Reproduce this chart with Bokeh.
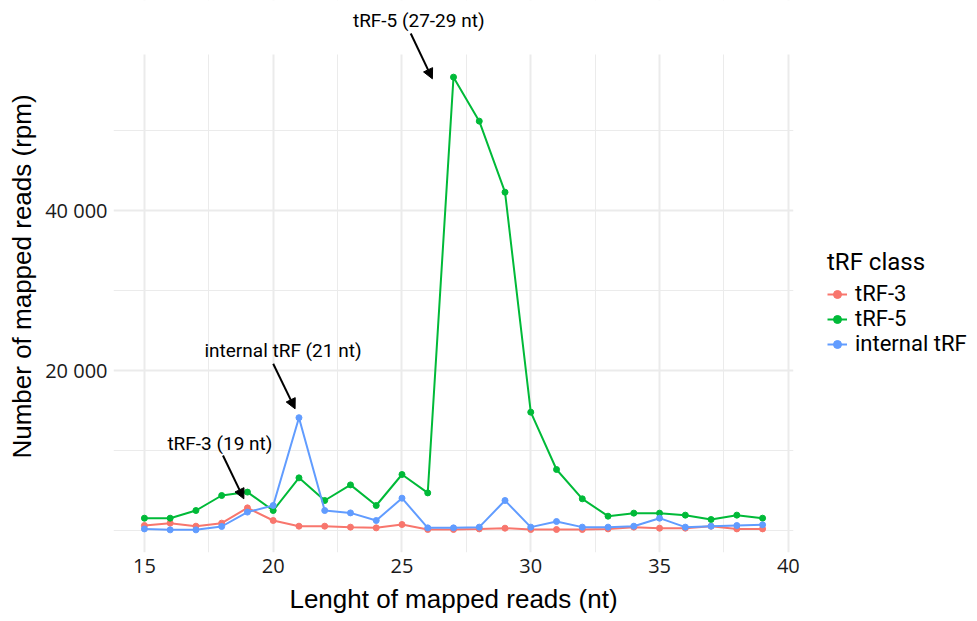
from bokeh.plotting import figure
from bokeh.models import (Range1d, FixedTicker, Legend, LegendItem, Label, Arrow, NormalHead,
                          BoxAnnotation)
from bokeh.embed import file_html
from bokeh.resources import INLINE

# ---- data ----
lengths = list(range(15, 40))
trf3 = [625, 920, 540, 920, 2830, 1250, 540, 540, 420, 330, 750, 125, 125, 200,
        290, 125, 125, 125, 200, 420, 290, 290, 540, 200, 200]
trf5 = [1540, 1540, 2500, 4375, 4800, 2500, 6580, 3750, 5700, 3125, 7000, 4700,
        56670, 51170, 42290, 14790, 7625, 3960, 1790, 2170, 2170, 1920, 1375, 1920, 1540]
internal = [200, 80, 80, 500, 2300, 3125, 14100, 2500, 2200, 1250, 4040, 330, 330,
            420, 3750, 420, 1125, 420, 420, 540, 1540, 420, 540, 625, 710]
series_names = ["tRF-3", "tRF-5", "internal tRF"]
series_values = [trf3, trf5, internal]
colors = ["#F8766D", "#00BA38", "#619CFF"]

x_ticks = [15, 20, 25, 30, 35, 40]
x_minor = [17.5, 22.5, 27.5, 32.5, 37.5]
y_ticks = [20000, 40000]
y_tick_labels = ["20 000", "40 000"]
y_minor = [0, 10000, 30000, 50000]

# annotation texts: (text, text x, text y, arrow start x, start y, end x, end y)
notes = [
    ("tRF-5 (27-29 nt)", 25.65, 63750, 25.34, 62125, 26.18, 56460),
    ("internal tRF (21 nt)", 20.38, 22500, 20.0, 20840, 20.85, 15210),
    ("tRF-3 (19 nt)", 17.93, 10875, 18.05, 9375, 18.86, 3960),
]

# panel limits (ggplot-style expansion) and area above it kept blank for the top note
panel_top = 59500
p = figure(width=977, height=621, frame_width=680, frame_height=552,
           x_range=Range1d(13.8, 40.2), y_range=Range1d(-2750, 66250),
           output_backend="svg", toolbar_location=None,
           min_border_left=113, min_border_right=184, min_border_top=0, min_border_bottom=69)
p.outline_line_color = None
p.background_fill_color = "white"
p.border_fill_color = "white"

for ax in (p.xaxis[0], p.yaxis[0]):
    ax.axis_line_color = None
    ax.major_tick_line_color = None
    ax.minor_tick_line_color = None
    ax.major_tick_out = 0
    ax.major_tick_in = 0
    ax.minor_tick_out = 0
    ax.minor_tick_in = 0
    ax.major_label_text_font = "Open Sans"
    ax.major_label_text_font_size = "20px"
    ax.major_label_text_color = "#1a1a1a"
    ax.major_label_standoff = 6
    ax.axis_label_text_font = "Liberation Sans"
    ax.axis_label_text_font_size = "26px"
    ax.axis_label_text_font_style = "normal"
    ax.axis_label_text_color = "black"

p.xaxis.ticker = FixedTicker(ticks=x_ticks, minor_ticks=x_minor)
p.yaxis.ticker = FixedTicker(ticks=y_ticks, minor_ticks=y_minor)
p.yaxis.major_label_overrides = {t: l for t, l in zip(y_ticks, y_tick_labels)}
p.xaxis.axis_label = "Lenght of mapped reads (nt)"
p.yaxis.axis_label = "Number of mapped reads (rpm)"
p.xaxis.axis_label_standoff = 8
p.yaxis.axis_label_standoff = 5

for g in (p.xgrid[0], p.ygrid[0]):
    g.grid_line_color = "#EBEBEB"
    g.grid_line_width = 2
    g.minor_grid_line_color = "#EBEBEB"
    g.minor_grid_line_width = 1

# blank strip above the panel (hides grid lines there)
p.add_layout(BoxAnnotation(bottom=panel_top, fill_color="white", fill_alpha=1,
                           line_alpha=0, level="glyph"))

items = []
for name, vals, c in zip(series_names, series_values, colors):
    lr = p.line(lengths, vals, line_color=c, line_width=2)
    sr = p.scatter(lengths, vals, size=6, color=c)
    items.append(LegendItem(label=name, renderers=[lr, sr]))

legend = Legend(items=items, title="tRF class", location=(34, 196),
                border_line_color=None, background_fill_alpha=0,
                title_text_font="Roboto", title_text_font_size="24px",
                title_text_font_style="normal", title_text_color="black", title_standoff=5,
                label_text_font="Roboto", label_text_font_size="22px",
                label_text_color="black", label_text_line_height=1.0,
                glyph_width=20, glyph_height=20, label_height=20, label_standoff=8,
                spacing=0, padding=0, margin=0)
p.add_layout(legend, "right")

for text, tx, ty, xs, ys, xe, ye in notes:
    p.add_layout(Label(x=tx, y=ty, text=text, text_align="center", text_baseline="middle",
                       text_font="Roboto", text_font_size="19px", text_color="black"))
    p.add_layout(Arrow(end=NormalHead(size=10, fill_color="black", line_color="black"),
                       x_start=xs, y_start=ys, x_end=xe, y_end=ye,
                       line_width=2, line_color="black"))

open("out.html", "w").write(file_html(p, INLINE))
